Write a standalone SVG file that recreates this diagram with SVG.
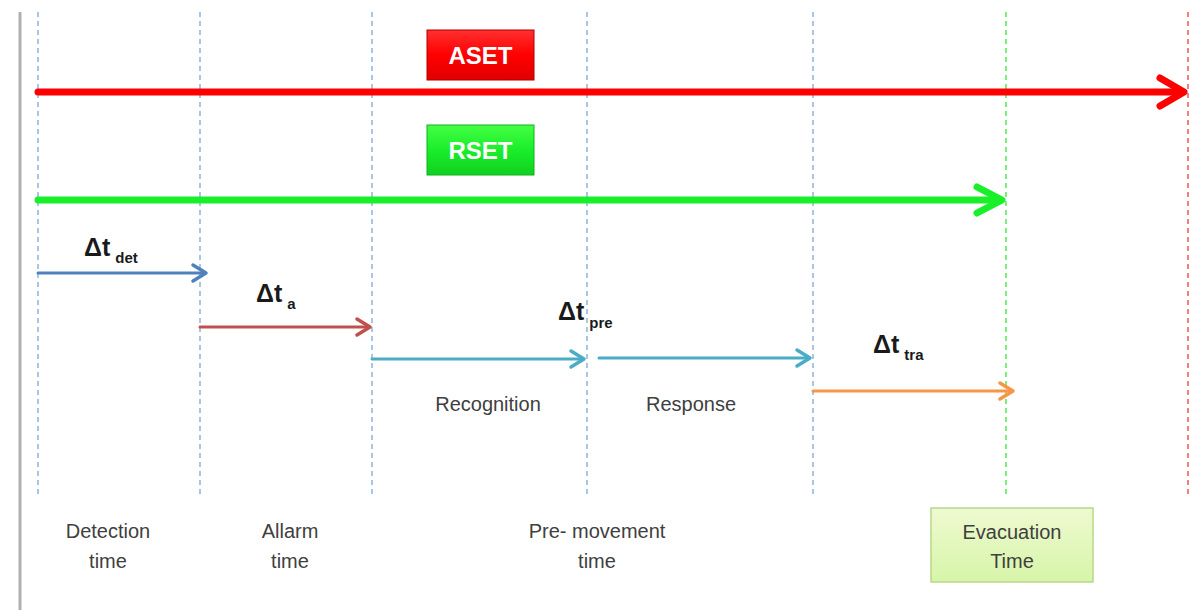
<svg xmlns="http://www.w3.org/2000/svg" width="1190" height="610" viewBox="0 0 1190 610">
<defs>
<linearGradient id="gRed" x1="0" y1="0" x2="0" y2="1"><stop offset="0" stop-color="#ff3030"/><stop offset="0.5" stop-color="#ff0000"/><stop offset="1" stop-color="#e00000"/></linearGradient>
<linearGradient id="gGreen" x1="0" y1="0" x2="0" y2="1"><stop offset="0" stop-color="#44ff44"/><stop offset="0.5" stop-color="#1aee2a"/><stop offset="1" stop-color="#10d020"/></linearGradient>
<linearGradient id="gEvac" x1="0" y1="0" x2="0" y2="1"><stop offset="0" stop-color="#eefad0"/><stop offset="1" stop-color="#d6f5a8"/></linearGradient>
</defs>
<style>
.vb{stroke:#7ea6d8;stroke-width:1.3;stroke-dasharray:5 4;fill:none}
.lbl{font-family:"Liberation Sans",Arial,sans-serif;font-size:20px;fill:#404040;text-anchor:middle}
.dt{font-family:"Liberation Sans",Arial,sans-serif;font-weight:bold;fill:#1a1a1a}
.big{font-size:25px}
.sub{font-size:15px}
.btn{font-family:"Liberation Sans",Arial,sans-serif;font-weight:bold;font-size:24px;fill:#ffffff;text-anchor:middle}
</style>
<rect width="1190" height="610" fill="#ffffff"/>
<line x1="20" y1="12" x2="20" y2="610" stroke="#b0b0b0" stroke-width="3"/>
<g id="gridlines">
<line class="vb" x1="38" y1="12" x2="38" y2="497"/>
<line class="vb" x1="200" y1="12" x2="200" y2="497"/>
<line class="vb" x1="372" y1="12" x2="372" y2="497"/>
<line class="vb" x1="587" y1="12" x2="587" y2="497"/>
<line class="vb" x1="813" y1="12" x2="813" y2="497"/>
<line x1="1006" y1="12" x2="1006" y2="497" stroke="#33e633" stroke-width="1.3" stroke-dasharray="5 4"/>
<line x1="1188" y1="12" x2="1188" y2="497" stroke="#f06060" stroke-width="1.6" stroke-dasharray="5 4"/>
</g>
<g id="connectors" fill="none" stroke-linecap="round" stroke-linejoin="round">
<g id="aset-arrow" stroke="#ff0000"><line x1="38" y1="92" x2="1182" y2="92" stroke-width="7"/><polyline points="1160,78 1184,92 1160,106" stroke-width="7"/></g>
<g id="rset-arrow" stroke="#19f02a"><line x1="38" y1="200" x2="1000" y2="200" stroke-width="7"/><polyline points="977,187 1002,200 977,213" stroke-width="7"/></g>
<g stroke="#4f81bd"><line x1="38" y1="273" x2="205" y2="273" stroke-width="3"/><polyline points="193,265 206,273 193,281" stroke-width="3.5"/></g>
<g stroke="#c0504d"><line x1="200" y1="327" x2="369" y2="327" stroke-width="3"/><polyline points="357,319 370,327 357,335" stroke-width="3.5"/></g>
<g stroke="#4bacc6"><line x1="372" y1="359" x2="583" y2="359" stroke-width="3"/><polyline points="571,351 584,359 571,367" stroke-width="3.5"/></g>
<g stroke="#4bacc6"><line x1="599" y1="358" x2="809" y2="358" stroke-width="3"/><polyline points="797,350 810,358 797,366" stroke-width="3.5"/></g>
<g stroke="#f79646"><line x1="813" y1="391" x2="1012" y2="391" stroke-width="3"/><polyline points="1000,383 1013,391 1000,399" stroke-width="3.5"/></g>
</g>
<g id="aset"><rect x="427" y="30" width="107" height="50" fill="url(#gRed)" stroke="#b00000" stroke-width="1"/><text class="btn" x="480.5" y="64">ASET</text></g>
<g id="rset"><rect x="427" y="125" width="107" height="50" fill="url(#gGreen)" stroke="#10b020" stroke-width="1"/><text class="btn" x="480.5" y="159">RSET</text></g>
<g id="dt-det"><text class="dt" x="84" y="256"><tspan class="big">Δt</tspan><tspan class="sub" dx="5" dy="7">det</tspan></text></g>
<g id="dt-a"><text class="dt" x="256" y="302"><tspan class="big">Δt</tspan><tspan class="sub" dx="5" dy="7">a</tspan></text></g>
<g id="dt-pre"><text class="dt" x="558" y="320"><tspan class="big">Δt</tspan><tspan class="sub" dx="5" dy="8">pre</tspan></text></g>
<g id="dt-tra"><text class="dt" x="873" y="353"><tspan class="big">Δt</tspan><tspan class="sub" dx="5" dy="7">tra</tspan></text></g>
<g id="recognition"><text class="lbl" x="488" y="411">Recognition</text></g>
<g id="response"><text class="lbl" x="691" y="411">Response</text></g>
<g id="detection"><text class="lbl" x="108" y="538">Detection</text><text class="lbl" x="108" y="568">time</text></g>
<g id="allarm"><text class="lbl" x="290" y="538">Allarm</text><text class="lbl" x="290" y="568">time</text></g>
<g id="premovement"><text class="lbl" x="597" y="538">Pre- movement</text><text class="lbl" x="597" y="568">time</text></g>
<g id="evacuation"><rect x="931" y="508" width="162" height="74" fill="url(#gEvac)" stroke="#b8d88a" stroke-width="1.5"/><text class="lbl" x="1012" y="539">Evacuation</text><text class="lbl" x="1012" y="568">Time</text></g>
</svg>
